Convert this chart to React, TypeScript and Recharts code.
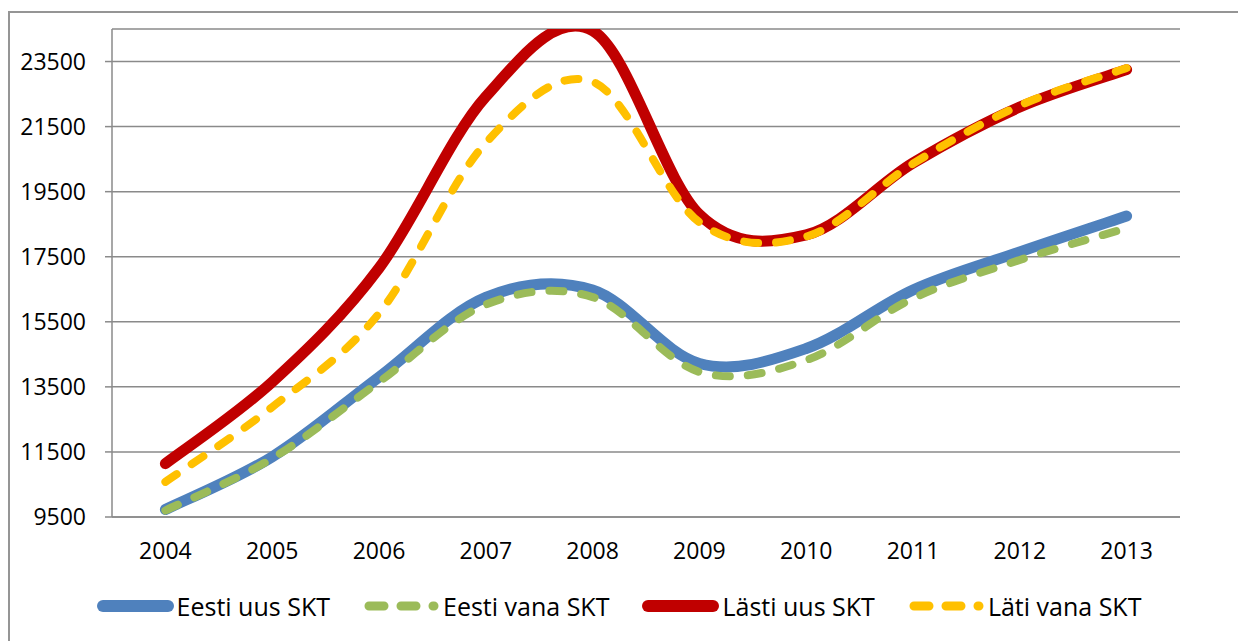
import React from 'react';
import { LineChart, Line, XAxis, YAxis, CartesianGrid } from 'recharts';

// Aastad ja väärtused (loetud pildilt)
const years = ['2004', '2005', '2006', '2007', '2008', '2009', '2010', '2011', '2012', '2013'];
const eestiUus = [9730, 11350, 13800, 16250, 16480, 14220, 14680, 16480, 17650, 18750];
const eestiVana = [9700, 11300, 13650, 16030, 16260, 13960, 14320, 16220, 17400, 18380];
const lastiUus = [11140, 13650, 17150, 22420, 24450, 18800, 18170, 20380, 22100, 23250];
const latiVana = [10580, 12880, 15760, 21000, 22880, 18560, 18120, 20360, 22150, 23300];
const yTicks = [9500, 11500, 13500, 15500, 17500, 19500, 21500, 23500];
const boundaryTicks = [0, 1, 2, 3, 4, 5, 6, 7, 8, 9, 10];

const GRID = '#8a8a8a';
const FONT = '"Open Sans", "Liberation Sans", sans-serif';

const series = [
  { key: 'eestiUus', name: 'Eesti uus SKT', color: '#4F81BD', width: 11, dash: undefined as string | undefined, values: eestiUus },
  { key: 'eestiVana', name: 'Eesti vana SKT', color: '#9BBB59', width: 8, dash: '14 18', values: eestiVana },
  { key: 'lastiUus', name: 'Lästi uus SKT', color: '#C00000', width: 11, dash: undefined, values: lastiUus },
  { key: 'latiVana', name: 'Läti vana SKT', color: '#FFC000', width: 8, dash: '14 18', values: latiVana },
];

const data = years.map((year, i) => {
  const row: Record<string, string | number> = { year };
  series.forEach((s) => {
    row[s.key] = s.values[i];
  });
  return row;
});

// Excel-laadne silumine (Catmull-Rom -> Bezier)
const excelSmooth = (context: any) => {
  let pts: [number, number][] = [];
  return {
    areaStart() {},
    areaEnd() {},
    lineStart() {
      pts = [];
    },
    point(x: number, y: number) {
      pts.push([+x, +y]);
    },
    lineEnd() {
      const n = pts.length;
      if (!n) return;
      context.moveTo(pts[0][0], pts[0][1]);
      for (let i = 0; i < n - 1; i++) {
        const p0 = pts[Math.max(i - 1, 0)];
        const p1 = pts[i];
        const p2 = pts[i + 1];
        const p3 = pts[Math.min(i + 2, n - 1)];
        context.bezierCurveTo(
          p1[0] + (p2[0] - p0[0]) / 6,
          p1[1] + (p2[1] - p0[1]) / 6,
          p2[0] - (p3[0] - p1[0]) / 6,
          p2[1] - (p3[1] - p1[1]) / 6,
          p2[0],
          p2[1]
        );
      }
    },
  };
};

function LegendRow() {
  return (
    <div
      style={{
        position: 'absolute',
        left: 0,
        top: 589,
        width: 1238,
        display: 'flex',
        justifyContent: 'center',
        alignItems: 'center',
        gap: 33,
        fontFamily: FONT,
        fontSize: 25,
        color: '#000',
      }}
    >
      {series.map((s) => (
        <div key={s.key} style={{ display: 'flex', alignItems: 'center', gap: 3 }}>
          <svg width={77} height={16}>
            <line
              x1={6}
              y1={8}
              x2={71}
              y2={8}
              stroke={s.color}
              strokeWidth={s.dash ? 9 : 12}
              strokeDasharray={s.dash ? '15 17' : undefined}
              strokeLinecap="round"
            />
          </svg>
          <span style={{ whiteSpace: 'nowrap' }}>{s.name}</span>
        </div>
      ))}
    </div>
  );
}

export default function App() {
  return (
    <div
      style={{
        position: 'fixed',
        left: 0,
        top: 0,
        width: 1238,
        height: 641,
        background: '#fff',
        overflow: 'hidden',
        fontFamily: FONT,
      }}
    >
      <div
        style={{
          position: 'absolute',
          left: 8,
          top: 11,
          width: 1300,
          height: 700,
          border: `2px solid #959595`,
        }}
      />
      <div style={{ position: 'absolute', left: 0, top: 0 }}>
        <LineChart width={1238} height={641} data={data} margin={{ top: 29, right: 58, bottom: 63, left: 0 }}>
          <CartesianGrid horizontal vertical={false} stroke={GRID} strokeWidth={1.5} />
          <XAxis
            xAxisId="bounds"
            type="number"
            domain={[0, 10]}
            ticks={boundaryTicks}
            height={1}
            tick={false}
            tickSize={8}
            axisLine={{ stroke: GRID, strokeWidth: 1.5 }}
            tickLine={{ stroke: GRID, strokeWidth: 1.5 }}
          />
          <XAxis
            xAxisId="cat"
            dataKey="year"
            scale="band"
            height={60}
            axisLine={false}
            tickLine={false}
            tickSize={8}
            tickMargin={17}
            interval={0}
            tick={{ fill: '#000', fontSize: 23 }}
          />
          <YAxis
            width={112}
            domain={[9500, 24500]}
            ticks={yTicks}
            allowDataOverflow
            tickSize={7}
            tickMargin={19}
            axisLine={{ stroke: GRID, strokeWidth: 1.5 }}
            tickLine={{ stroke: GRID, strokeWidth: 1.5 }}
            tick={{ fill: '#000', fontSize: 23 }}
          />
          {series.map((s) => (
            <Line
              key={s.key}
              xAxisId="cat"
              dataKey={s.key}
              name={s.name}
              type={excelSmooth as any}
              stroke={s.color}
              strokeWidth={s.width}
              strokeDasharray={s.dash}
              strokeLinecap="round"
              strokeLinejoin="round"
              dot={false}
              activeDot={false}
              isAnimationActive={false}
            />
          ))}
        </LineChart>
      </div>
      <LegendRow />
    </div>
  );
}
